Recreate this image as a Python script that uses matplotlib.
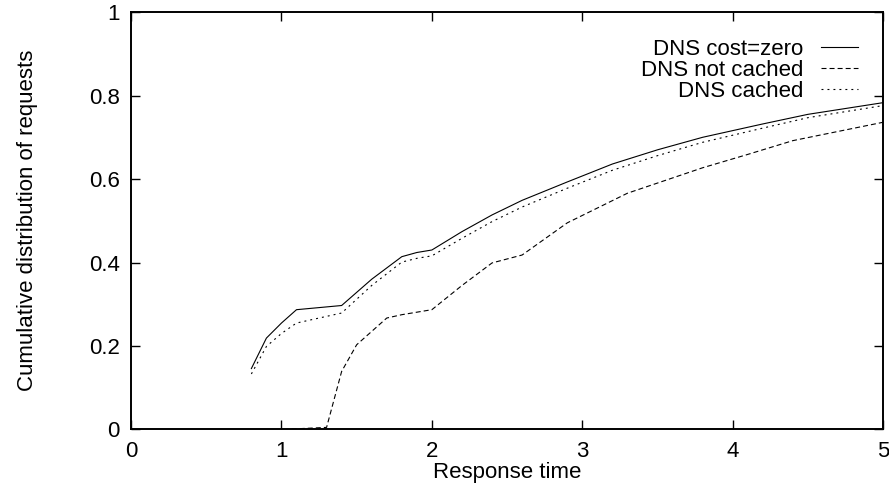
import numpy as np
import matplotlib.pyplot as plt

plt.rcParams['font.family'] = ['Liberation Sans', 'DejaVu Sans']
plt.rcParams['lines.scale_dashes'] = False

# response time (x) and cumulative fraction (y) for each configuration
x_zero = [0.8, 0.9, 1.0, 1.1, 1.4, 1.6, 1.8, 1.9, 2.0, 2.2, 2.4, 2.6, 2.9, 3.2, 3.5, 3.8, 4.2, 4.5, 5.0]
y_zero = [0.146, 0.219, 0.255, 0.287, 0.297, 0.36, 0.414, 0.424, 0.430, 0.474, 0.514, 0.549, 0.593, 0.636, 0.670, 0.700, 0.732, 0.755, 0.783]

x_nocache = [0.8, 1.0, 1.3, 1.4, 1.5, 1.7, 1.8, 2.0, 2.2, 2.4, 2.6, 2.9, 3.3, 3.8, 4.1, 4.4, 5.0]
y_nocache = [0.0, 0.0, 0.005, 0.139, 0.203, 0.267, 0.275, 0.287, 0.345, 0.399, 0.418, 0.495, 0.566, 0.627, 0.659, 0.692, 0.736]

x_cached = [0.8, 0.9, 1.0, 1.1, 1.4, 1.6, 1.8, 1.9, 2.0, 2.2, 2.4, 2.6, 2.9, 3.2, 3.5, 3.8, 4.2, 4.5, 5.0]
y_cached = [0.133, 0.199, 0.230, 0.255, 0.279, 0.345, 0.401, 0.410, 0.416, 0.458, 0.498, 0.533, 0.578, 0.621, 0.656, 0.688, 0.722, 0.747, 0.776]

labels = ['DNS cost=zero', 'DNS not cached', 'DNS cached']
xticks = [0, 1, 2, 3, 4, 5]
yticks = [0, 0.2, 0.4, 0.6, 0.8, 1]
yticklabels = ['0', '0.2', '0.4', '0.6', '0.8', '1']

fig = plt.figure(figsize=(8.89, 4.83), dpi=100)
ax = fig.add_axes([0.1474, 0.1108, 0.846, 0.8642])

ax.plot(x_zero, y_zero, color='black', lw=0.8, label=labels[0])
ax.plot(x_nocache, y_nocache, color='black', lw=0.8, dashes=(3.6, 2.2), label=labels[1])
ax.plot(x_cached, y_cached, color='black', lw=0.8, dashes=(1.4, 2.9), label=labels[2])

ax.set_xlim(0, 5)
ax.set_ylim(0, 1)
ax.set_xticks(xticks)
ax.set_xticklabels([str(t) for t in xticks])
ax.set_yticks(yticks)
ax.set_yticklabels(yticklabels)
ax.tick_params(direction='in', length=6.5, width=1, top=True, right=True,
               labelsize=16, pad=8)
for s in ax.spines.values():
    s.set_linewidth(1.4)

ax.set_xlabel('Response time', fontsize=16, labelpad=0)
ax.set_ylabel('Cumulative distribution of requests', fontsize=16, labelpad=37)

ax.legend(loc='upper right', bbox_to_anchor=(0.967, 0.935), frameon=False,
          markerfirst=False, fontsize=16, handlelength=1.7, handletextpad=0.77,
          labelspacing=0.0, borderpad=0, borderaxespad=0)

fig.savefig('out.png', dpi=100)
